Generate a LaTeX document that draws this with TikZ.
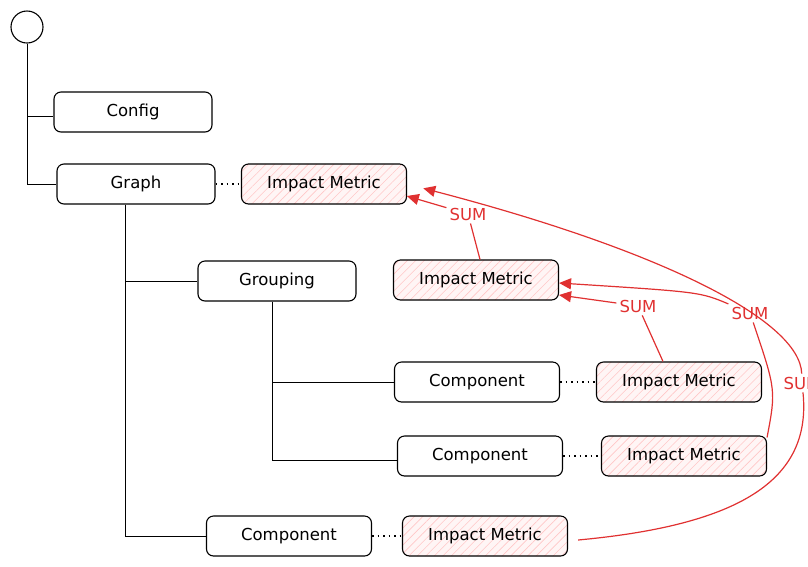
\documentclass[tikz,border=0pt]{standalone}
\usepackage{fontspec}
\setmainfont{DejaVu Sans}
\usetikzlibrary{arrows.meta}
\usetikzlibrary{patterns.meta}

\definecolor{sumred}{HTML}{E03131}

\tikzset{
  box/.style={draw, rounded corners=7pt, line width=1.1pt, minimum width=158pt,
    minimum height=40pt, font=\fontsize{16.5}{19}\selectfont},
  wbox/.style={box, minimum width=165pt},
  impact/.style={wbox, preaction={fill=red!4},
    pattern={Lines[angle=45,distance=6pt,line width=.6pt]}, pattern color=red!22},
  tree/.style={line width=1pt},
  link/.style={line width=1.2pt, dash pattern=on 1.5pt off 4pt},
  sum/.style={text=sumred, inner sep=3pt, font=\fontsize{16.5}{19}\selectfont},
  sumline/.style={draw=sumred, line width=1.2pt},
  sumarrow/.style={sumline, -{Triangle[length=12pt,width=11pt]}},
}

\begin{document}
\begin{tikzpicture}[x=1pt, y=-1pt]
  \useasboundingbox (0,0) rectangle (808,566);

  \node[draw, circle, line width=1.1pt, minimum size=32pt, inner sep=0pt] at (27,27) (root) {};

  \node[box] at (133,112) (config) {Config};
  \node[box] at (136,184) (graph) {Graph};
  \node[box] at (277,281) (grouping) {Grouping};
  \node[wbox] at (477,382) (compA) {Component};
  \node[wbox] at (480,456) (compB) {Component};
  \node[wbox] at (289,536) (compC) {Component};

  \node[impact] at (324,184) (imGraph) {Impact Metric};
  \node[impact] at (476,280) (imGroup) {Impact Metric};
  \node[impact] at (679,382) (imA) {Impact Metric};
  \node[impact] at (684,456) (imB) {Impact Metric};
  \node[impact] at (485,536) (imC) {Impact Metric};

  % tree
  \draw[tree] (root.south) |- ([yshift=-4pt]config.west);
  \draw[tree] (root.south) |- (graph.west);
  \draw[tree] ([xshift=-11pt]graph.south) |- (grouping.west);
  \draw[tree] ([xshift=-11pt]graph.south) |- (compC.west);
  \draw[tree] ([xshift=-5pt]grouping.south) |- (compA.west);
  \draw[tree] ([xshift=-5pt]grouping.south) |- ([yshift=-4pt]compB.west);

  % metric links
  \draw[link] (graph) -- (imGraph);
  \draw[link] (compA) -- (imA);
  \draw[link] (compB) -- (imB);
  \draw[link] (compC) -- (imC);

  % sums
  \node[sum] at (468,214) (sumGroup) {SUM};
  \node[sum] at (638,306) (sumA) {SUM};
  \node[sum] at (750,313) (sumB) {SUM};
  \node[sum] at (802,383) (sumC) {SUM};

  \draw[sumline] ([xshift=4pt]imGroup.north) -- (sumGroup);
  \draw[sumarrow] (sumGroup) -- ([yshift=-12pt]imGraph.east);

  \draw[sumline] ([xshift=-16pt]imA.north) -- (sumA);
  \draw[sumarrow] (sumA) -- ([yshift=-15pt]imGroup.east);

  \draw[sumline] ([yshift=-2pt]imB.north east) .. controls (776,390) .. (sumB);
  \draw[sumarrow] (sumB) .. controls (700,292) .. ([yshift=-3pt]imGroup.east);

  \draw[sumline] ([xshift=10pt,yshift=-4pt]imC.east) .. controls (740,525) and (812,480) .. (sumC);
  \draw[sumarrow, shorten >=17pt] (sumC) .. controls (800,320) and (660,250) .. (imGraph.east);

\end{tikzpicture}
\end{document}
